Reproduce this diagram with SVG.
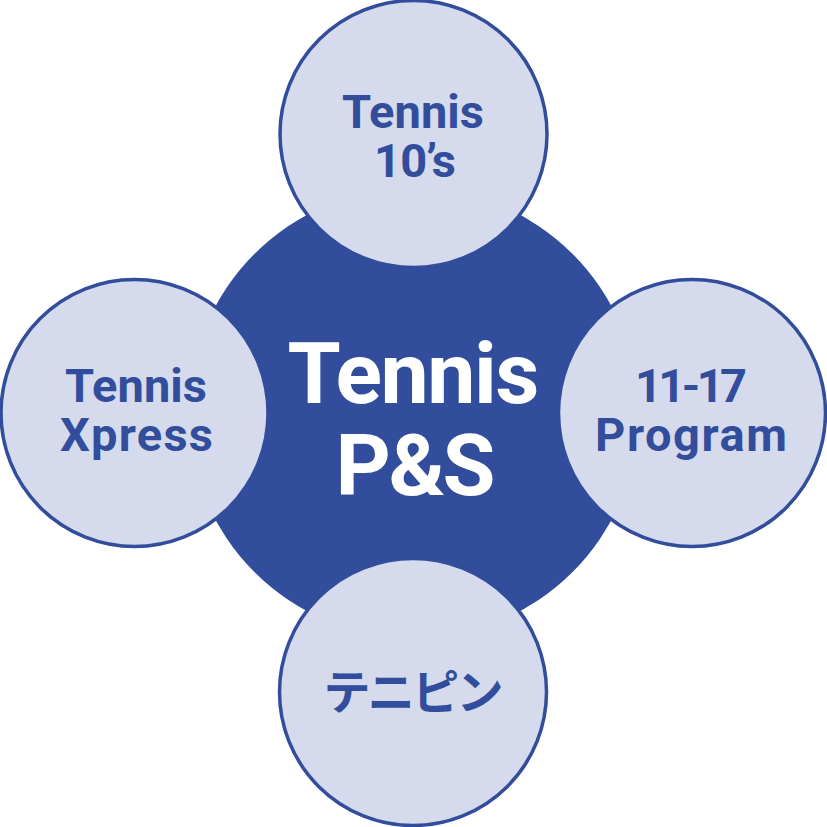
<svg xmlns="http://www.w3.org/2000/svg" width="827" height="827" viewBox="0 0 827 827">
<style>
.sat{fill:#d5dbec;stroke:#314d9b;stroke-width:3.5}
.lbl{font-family:Roboto,"Noto Sans","Liberation Sans",sans-serif;font-weight:700;fill:#314d9b;text-anchor:middle}
.s{font-size:47px}
.c{font-family:Roboto,"Noto Sans","Liberation Sans",sans-serif;font-weight:700;fill:#ffffff;text-anchor:middle;font-size:86px}
.jp{font-family:"Noto Sans CJK JP","Noto Sans",sans-serif;font-weight:700;fill:#314d9b;text-anchor:middle;font-size:47px}
</style>
<rect width="827" height="827" fill="#ffffff"/>
<g id="connectors"></g>
<g id="center">
<circle cx="413.5" cy="413" r="225" fill="#314d9b"/>
<text class="c" x="413.5" y="403" textLength="252" lengthAdjust="spacing">Tennis</text>
<text class="c" x="415.5" y="495" textLength="160" lengthAdjust="spacing">P&amp;S</text>
</g>
<g id="top">
<circle class="sat" cx="413.5" cy="134" r="133.5"/>
<text class="lbl s" x="413" y="128" textLength="142" lengthAdjust="spacing">Tennis</text>
<text class="lbl s" x="415" y="177" textLength="82" lengthAdjust="spacing">10’s</text>
</g>
<g id="left">
<circle class="sat" cx="134.5" cy="413" r="133.5"/>
<text class="lbl s" x="136" y="402" textLength="142" lengthAdjust="spacing">Tennis</text>
<text class="lbl s" x="136.5" y="451" textLength="153" lengthAdjust="spacing">Xpress</text>
</g>
<g id="right">
<circle class="sat" cx="692" cy="413" r="133.5"/>
<text class="lbl s" x="691" y="402" textLength="112" lengthAdjust="spacing">11-17</text>
<text class="lbl s" x="691" y="451" textLength="192" lengthAdjust="spacing">Program</text>
</g>
<g id="bottom">
<circle class="sat" cx="413" cy="692" r="133.5"/>
<text class="jp" x="413.5" y="709" textLength="180" lengthAdjust="spacing">テニピン</text>
</g>
</svg>
